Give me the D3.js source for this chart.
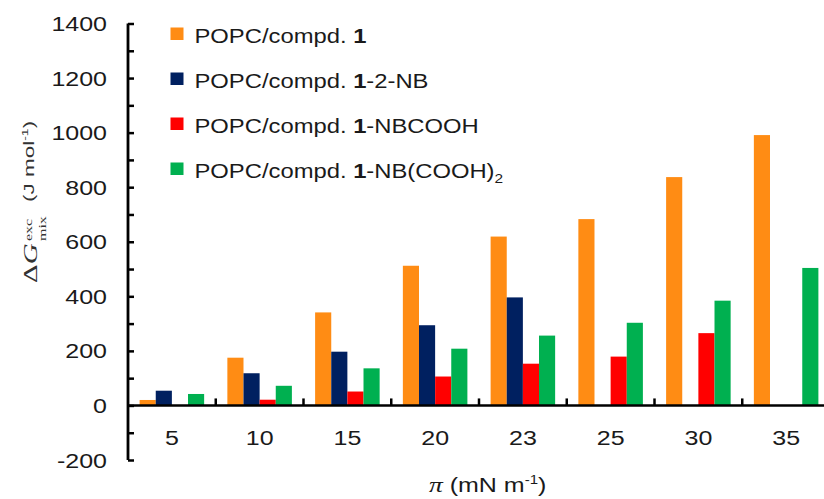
<!DOCTYPE html>
<html><head><meta charset="utf-8">
<script src="https://cdn.jsdelivr.net/npm/d3@7"></script>
<style>body{margin:0;background:#fff}svg{display:block}</style>
</head><body><svg id="c" width="824" height="499"></svg>
<script>
// ---- data ----
const categories = ["5","10","15","20","23","25","30","35"];
const seriesNames = ["POPC/compd. 1","POPC/compd. 1-2-NB","POPC/compd. 1-NBCOOH","POPC/compd. 1-NB(COOH)2"];
const compd1        = [20, 175, 341, 512, 619, 683, 837, 991];
const compd1_2NB    = [54, 118, 197, 294, 396, null, null, null];
const compd1_NBCOOH = [null, 21, 51, 106, 153, 179, 265, null];
const compd1_NBCOOH2= [42, 72, 136, 208, 256, 303, 384, 504];
const yTickLabels = [-200, 0, 200, 400, 600, 800, 1000, 1200, 1400];
const legendSuffix = ["", "-2-NB", "-NBCOOH", "-NB(COOH)"];
const legendSub    = ["", "", "", "2"];
const colors = ["#FF8C14", "#002060", "#FF0000", "#00B050"];

const seriesValues = [compd1, compd1_2NB, compd1_NBCOOH, compd1_NBCOOH2];
const SANS = "'Liberation Sans', Arial, sans-serif";
const SERIF = "'Liberation Serif', 'Times New Roman', serif";
const SX = 1.25;       // horizontal stretch of axis text in the reference
const SX_LEG = 1.19;   // horizontal stretch of legend text
const INK = "#1a1a1a";

const svg = d3.select("#c");

const y = d3.scaleLinear().domain([-200, 1400]).range([460, 23.5]);
const x0 = d3.scaleBand().domain(categories).range([128, 830]).padding(0);
const x1 = d3.scaleBand().domain(seriesNames).range([0, x0.bandwidth()]).paddingInner(0).paddingOuter(0.72);

// ---- bars ----
seriesNames.forEach((s, si) => {
  const data = categories.map((c, i) => ({c, v: seriesValues[si][i]})).filter(d => d.v != null);
  svg.append("g").selectAll("rect").data(data).join("rect")
    .attr("x", d => x0(d.c) + x1(s))
    .attr("width", x1.bandwidth())
    .attr("y", d => Math.min(y(d.v), y(0)))
    .attr("height", d => Math.abs(y(0) - y(d.v)))
    .attr("fill", colors[si]);
});

// ---- y axis ----
const yAxis = d3.axisRight(y).tickValues(d3.range(-200, 1401, 100)).tickSize(6).tickFormat("");
const yg = svg.append("g").attr("transform", "translate(128,0)").call(yAxis);
yg.select(".domain").remove();
yg.selectAll(".tick line").attr("stroke", "#000").attr("stroke-width", 2.5);
svg.append("line").attr("x1", 128).attr("x2", 128).attr("y1", y(1400)).attr("y2", y(-200))
  .attr("stroke", "#000").attr("stroke-width", 2.8);

function stretched(x, yy, anchor, size, sx) {
  return svg.append("g").attr("transform", `translate(${x},${yy}) scale(${sx || SX},1)`)
    .append("text").attr("text-anchor", anchor).attr("font-family", SANS)
    .attr("font-size", size).attr("fill", INK);
}
yTickLabels.forEach(v => {
  stretched(107, y(v) + 7.5, "end", 20).text(v);
});

// ---- x axis ----
svg.append("line").attr("x1", 128).attr("x2", 824).attr("y1", y(0)).attr("y2", y(0))
  .attr("stroke", "#000").attr("stroke-width", 2.5);
svg.append("g").selectAll("line").data(categories).join("line")
  .attr("x1", c => x0(c) + x0.bandwidth()).attr("x2", c => x0(c) + x0.bandwidth())
  .attr("y1", y(0)).attr("y2", y(0) - 7)
  .attr("stroke", "#000").attr("stroke-width", 2.5);
categories.forEach(c => {
  stretched(x0(c) + x0.bandwidth() / 2, 445, "middle", 20).text(c);
});

// ---- x title ----
{
  const t = stretched(429, 492, "start", 20);
  t.append("tspan").attr("font-family", SERIF).attr("font-style", "italic").attr("font-size", 22).text("π");
  t.append("tspan").text(" (mN m");
  t.append("tspan").attr("font-size", 12).attr("dy", -8).text("-1");
  t.append("tspan").attr("dy", 8).text(")");
}

// ---- y title ----
{
  const g = svg.append("g").attr("transform", "translate(37,283) scale(0.66,1) rotate(-90)").attr("fill", "#333");
  const t1 = g.append("text").attr("x", 0).attr("y", 0).attr("font-family", SERIF).attr("font-size", 29);
  t1.append("tspan").text("Δ");
  t1.append("tspan").attr("font-style", "italic").text("G");
  g.append("text").attr("x", 42).attr("y", -8).attr("font-family", SERIF).attr("font-size", 16).text("exc");
  g.append("text").attr("x", 42).attr("y", 13).attr("font-family", SERIF).attr("font-size", 16).text("mix");
  const t2 = g.append("text").attr("x", 81).attr("y", -5).attr("font-family", SANS).attr("font-size", 22.5);
  t2.append("tspan").text("(J mol");
  t2.append("tspan").attr("font-size", 14).attr("dy", -9).text("-1");
  t2.append("tspan").attr("dy", 9).text(")");
}

// ---- legend ----
seriesNames.forEach((s, i) => {
  const base = 42.5 + i * 45;
  svg.append("rect").attr("x", 170.5).attr("y", base - 15).attr("width", 13).attr("height", 12.5)
    .attr("fill", colors[i]);
  const t = stretched(194.5, base, "start", 20, SX_LEG);
  t.append("tspan").text("POPC/compd. ");
  t.append("tspan").attr("font-weight", "bold").text("1");
  t.append("tspan").text(legendSuffix[i]);
  if (legendSub[i]) t.append("tspan").attr("font-size", 13).attr("dy", 5).text(legendSub[i]);
});
</script>
</body></html>
